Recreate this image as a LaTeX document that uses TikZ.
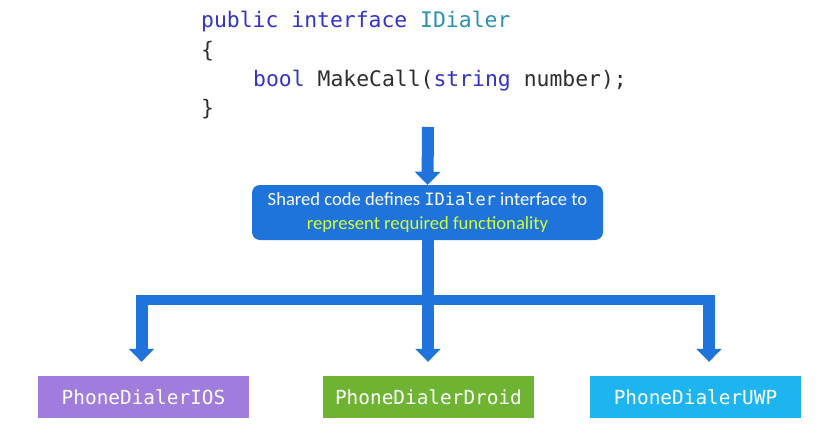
\documentclass[tikz,border=0pt]{standalone}
\usepackage{fontspec}
\setmainfont{Carlito}
\newfontfamily\codefont{DejaVu Sans Mono}
\usetikzlibrary{arrows.meta,calc}
\definecolor{kw}{RGB}{51,51,204}
\definecolor{tp}{RGB}{43,145,175}
\definecolor{tx}{RGB}{45,45,45}
\definecolor{arrowblue}{RGB}{30,116,218}
\definecolor{boxblue}{RGB}{30,116,218}
\definecolor{hl}{RGB}{210,255,60}
\definecolor{iosc}{RGB}{160,124,220}
\definecolor{droidc}{RGB}{110,180,50}
\definecolor{uwpc}{RGB}{30,180,240}
\tikzset{
  codeline/.style={anchor=base west, inner sep=0pt, font=\codefont\fontsize{21.4}{24}\selectfont, text=tx},
  platbox/.style={minimum width=211pt, minimum height=42pt, inner sep=0pt, text=white, font=\codefont\fontsize{19.4}{22}\selectfont},
  flow/.style={draw=arrowblue, line width=12pt, line cap=butt, -{Triangle[width=25pt,length=13pt]}},
  barline/.style={draw=arrowblue, line width=10pt, line cap=butt}
}
\begin{document}
\begin{tikzpicture}[x=1pt,y=-1pt]
\useasboundingbox[fill=white] (0,0) rectangle (832,428);
% code
\node[codeline] (l1) at (201,28) {\textcolor{kw}{public interface} \textcolor{tp}{IDialer}};
\node[codeline] (l2) at (201,57) {\{};
\node[codeline] (l3) at (253,86) {\textcolor{kw}{bool} MakeCall(\textcolor{kw}{string} number);};
\node[codeline] (l4) at (201,115) {\}};
% shared box
\node[fill=boxblue, rounded corners=8pt, minimum width=351pt, minimum height=55pt, inner sep=0pt, align=center, text=white, font=\fontsize{18.6}{24}\selectfont] (shared) at (427.5,212.5)
  {Shared code defines {\codefont\fontsize{17}{20}\selectfont IDialer} interface to\\ \textcolor{hl}{represent required functionality}};
% platform boxes
\node[platbox, fill=iosc] (ios) at (143.5,397) {PhoneDialerIOS};
\node[platbox, fill=droidc] (droid) at (428.5,397) {PhoneDialerDroid};
\node[platbox, fill=uwpc] (uwp) at (695.5,397) {PhoneDialerUWP};
% connectors
\coordinate (top) at (428,127);
\draw[flow] (top) -- (shared.north);
\coordinate (tl) at (141.5,295);
\coordinate (tr) at (709,295);
\draw[barline] (135.5,300) -- (715,300);
\draw[flow] (shared.south -| top) -- ([yshift=14pt]droid.north -| top);
\draw[flow] (tl) -- ([yshift=14pt]ios.north -| tl);
\draw[flow] (tr) -- ([yshift=14pt]uwp.north -| tr);
\end{tikzpicture}
\end{document}
